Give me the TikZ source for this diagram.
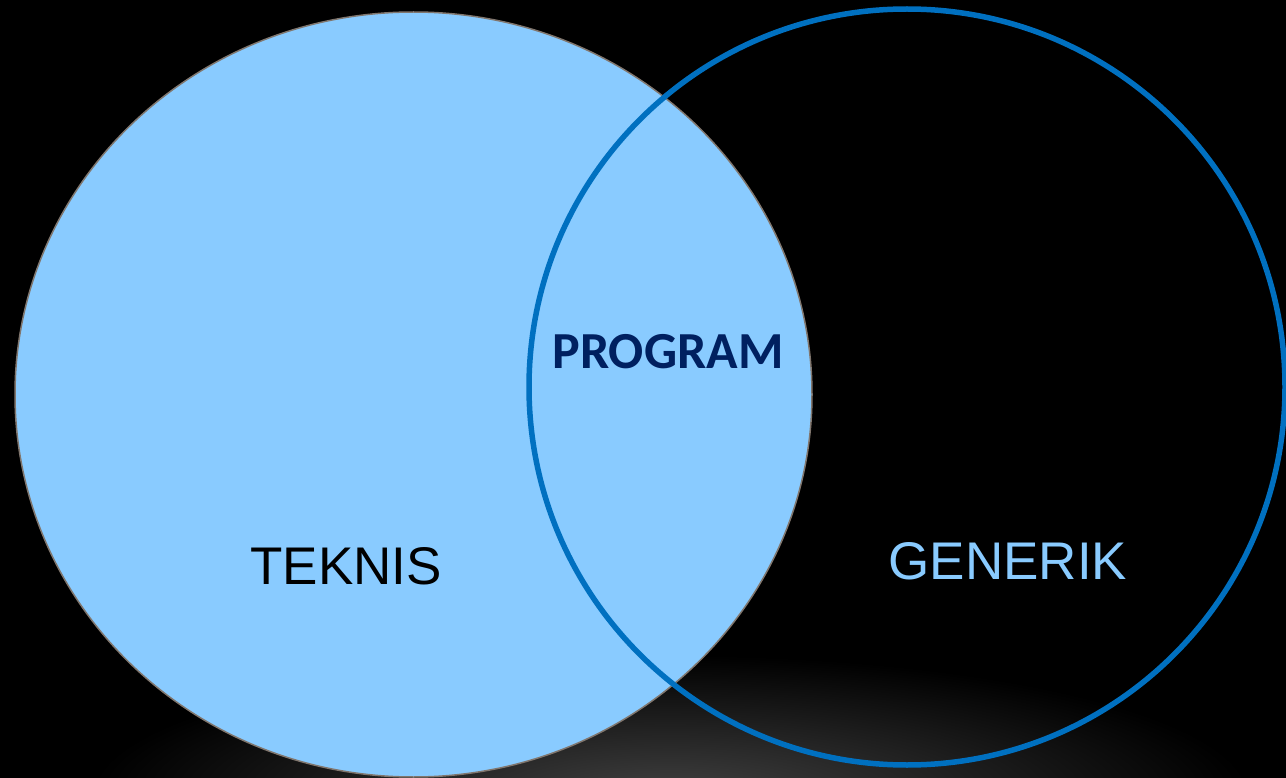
\documentclass[tikz,border=0pt]{standalone}
\usepackage{fontspec}
\setmainfont{Liberation Sans}
\newfontfamily\labelboldfont{Carlito}
\definecolor{setfill}{RGB}{137,203,255}
\definecolor{setedge}{RGB}{128,118,110}
\definecolor{ringblue}{RGB}{0,112,192}
\definecolor{navytext}{RGB}{0,32,96}
\definecolor{glowgrey}{RGB}{64,64,64}
\tikzset{
  settext/.style={inner sep=0pt, font=\fontsize{53}{53}\selectfont},
  midtext/.style={inner sep=0pt, text=navytext, font=\labelboldfont\bfseries\fontsize{52}{52}\selectfont}
}
\begin{document}
\begin{tikzpicture}[x=1pt,y=-1pt]
  % black backdrop
  \fill[black] (0,0) rectangle (1286,778);
  \useasboundingbox (0,0) rectangle (1286,778);
  \begin{scope}
    \clip (0,0) rectangle (1286,778);
    % soft light on the floor
    \shade[inner color=glowgrey, outer color=black] (670,795) ellipse [x radius=580pt, y radius=140pt];
    % filled set
    \draw[fill=setfill, draw=setedge, line width=1.5pt] (413.5,394.5) ellipse [x radius=398.5pt, y radius=382.5pt];
    % outlined set
    \draw[draw=ringblue, line width=5.5pt] (907,387) circle [radius=378pt];
  \end{scope}
  \node[settext, text=black] (teknis) at (346,566) {TEKNIS};
  \node[settext, text=setfill] (generik) at (1008,561) {GENERIK};
  \node[midtext] (program) at (668,352) {PROGRAM};
\end{tikzpicture}
\end{document}
